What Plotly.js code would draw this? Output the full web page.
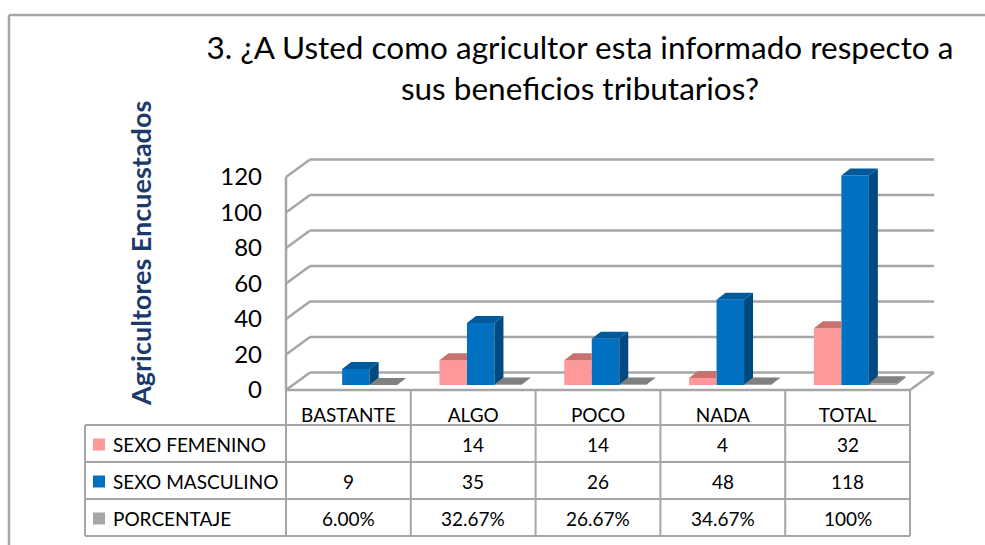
<!DOCTYPE html>
<html>
<head>
<meta charset="utf-8">
<script src="https://cdn.plot.ly/plotly-3.0.1.min.js"></script>
<style>html,body{margin:0;padding:0;background:#fff;}#chart{width:985px;height:545px;}</style>
</head>
<body>
<div id="chart"></div>
<script>
// ---- data ----
const categories = ['BASTANTE', 'ALGO', 'POCO', 'NADA', 'TOTAL'];
const femenino = [null, 14, 14, 4, 32];
const masculino = [9, 35, 26, 48, 118];
const porcentaje = [0.06, 0.3267, 0.2667, 0.3467, 1.00];
const porcentajeLabels = ['6.00%', '32.67%', '26.67%', '34.67%', '100%'];
const seriesNames = ['SEXO FEMENINO', 'SEXO MASCULINO', 'PORCENTAJE'];
const yTicks = [0, 20, 40, 60, 80, 100, 120];
const titleText = '3. ¿A Usted como agricultor esta informado respecto a<br>sus beneficios tributarios?';
const yTitle = 'Agricultores Encuestados';

// ---- styling / geometry ----
const W = 985, H = 545;
const L = 282, R = 940, T = 150, B = 395;         // plot box (px)
const X0 = 286, CAT = 124.8, Y0 = 390, UPX = 1.775; // front plane mapping
const xRange = [-0.5 - (X0 - L) / CAT, -0.5 + (R - X0) / CAT];
const yRange = [-(B - Y0) / UPX, (Y0 - T) / UPX];
const DXu = 24 / CAT, DYu = 17.5 / UPX;             // back-wall depth
const BASE = 5 / UPX, SHIFT = 7.5 / CAT, BW = 27.5 / CAT; // bar placement
const FDX = 9 / CAT, FDY = 7 / UPX;                 // bar face depth
const FONT = 'Lato, "Open Sans", sans-serif';
const colors = {
  pink: '#FF9999', pinkTop: '#C8716F',
  blue: '#0070C0', blueTop: '#005A9C', blueSide: '#004A80',
  gray: '#A6A6A6', grayTop: '#808080'
};
const lineCol = '#A6A6A6';
const px = x => (x - L) / (R - L);
const py = y => (B - y) / (B - T);
const idx = categories.map((_, i) => i);

const offsets = [SHIFT - 1.5 * BW, SHIFT - 0.5 * BW, SHIFT + 0.5 * BW];
const seriesVals = [femenino, masculino, porcentaje];
const frontCols = [colors.pink, colors.blue, colors.gray];

const traces = [];
seriesVals.forEach((vals, s) => {
  traces.push({
    type: 'bar', x: idx, y: vals, base: BASE, offset: offsets[s], width: BW,
    marker: {color: frontCols[s], line: {width: 0}},
    name: seriesNames[s], showlegend: false, hoverinfo: 'skip'
  });
});

function polys(vals, s, kind) {
  const xs = [], ys = [];
  vals.forEach((v, i) => {
    if (v === null || v === undefined) return;
    const xl = i + offsets[s], xr = xl + BW, b = BASE, t = BASE + v;
    let p;
    if (kind === 'topClip') p = [[xl, t], [xl + FDX, t + FDY], [xr, t + FDY], [xr, t]];
    else if (kind === 'top') p = [[xl, t], [xl + FDX, t + FDY], [xr + FDX, t + FDY], [xr, t]];
    else p = [[xr, b], [xr + FDX, b + FDY], [xr + FDX, t + FDY], [xr, t]];
    p.forEach(q => { xs.push(q[0]); ys.push(q[1]); });
    xs.push(xs[xs.length - p.length]); ys.push(ys[ys.length - p.length]);
    xs.push(null); ys.push(null);
  });
  return {xs, ys};
}
function face(vals, s, kind, col) {
  const p = polys(vals, s, kind);
  traces.push({
    type: 'scatter', mode: 'lines', x: p.xs, y: p.ys, fill: 'toself',
    fillcolor: col, line: {width: 0}, showlegend: false, hoverinfo: 'skip'
  });
}
face(femenino, 0, 'topClip', colors.pinkTop);
face(masculino, 1, 'side', colors.blueSide);
face(masculino, 1, 'top', colors.blueTop);
face(porcentaje, 2, 'side', colors.grayTop);
face(porcentaje, 2, 'top', colors.grayTop);

// ---- walls / gridlines ----
const shapes = [];
const ln = (x0, y0, x1, y1, xref, yref, w) => shapes.push({
  type: 'line', xref: xref, yref: yref, x0: x0, y0: y0, x1: x1, y1: y1,
  line: {color: lineCol, width: w || 2.5}, layer: 'below'
});
yTicks.forEach(v => {
  ln(-0.5 + DXu, v + DYu, 4.5 + DXu, v + DYu, 'x', 'y');
  ln(-0.5, v, -0.5 + DXu, v + DYu, 'x', 'y');
});
ln(-0.5, 0, -0.5, yTicks[yTicks.length - 1], 'x', 'y');
ln(-0.5, 0, 4.5, 0, 'x', 'y');
ln(4.5, 0, 4.5 + DXu, DYu, 'x', 'y');

// ---- data table ----
const rowLines = [390, 425, 462, 499, 536];
const colLeft = 85;
const colX = categories.map((_, i) => X0 + i * CAT).concat([X0 + categories.length * CAT]);
for (let r = 1; r < rowLines.length; r++) ln(px(colLeft), py(rowLines[r]), px(colX[colX.length - 1]), py(rowLines[r]), 'paper', 'paper', 2);
ln(px(colLeft), py(rowLines[1]), px(colLeft), py(rowLines[4]), 'paper', 'paper', 2);
colX.forEach(x => ln(px(x), py(rowLines[0]), px(x), py(rowLines[4]), 'paper', 'paper', 2));
// outer chart frame
ln(px(9), py(15), px(W), py(15), 'paper', 'paper', 2.5);
ln(px(9), py(15), px(9), py(H), 'paper', 'paper', 2.5);

const annotations = [];
const keyCols = [colors.pink, colors.blue, colors.gray];
const rowTexts = [
  femenino.map(v => v === null ? '' : String(v)),
  masculino.map(v => String(v)),
  porcentajeLabels
];
seriesNames.forEach((n, r) => {
  const yc = (rowLines[r + 1] + rowLines[r + 2]) / 2;
  shapes.push({type: 'rect', xref: 'paper', yref: 'paper',
    x0: px(93), x1: px(105), y0: py(yc + 7), y1: py(yc - 5),
    fillcolor: keyCols[r], line: {width: 0}});
  annotations.push({xref: 'paper', yref: 'paper', x: px(111), y: py(yc + 1),
    xanchor: 'left', yanchor: 'middle', text: n, showarrow: false,
    font: {family: FONT, size: 19, color: '#000'}});
  rowTexts[r].forEach((t, i) => {
    if (!t) return;
    annotations.push({xref: 'x', yref: 'paper', x: idx[i], y: py(yc + 1),
      xanchor: 'center', yanchor: 'middle', text: t, showarrow: false,
      font: {family: FONT, size: 19, color: '#000'}});
  });
});
annotations.push({xref: 'paper', yref: 'paper', x: px(140), y: py(254),
  xanchor: 'center', yanchor: 'middle', text: '<b>' + yTitle + '</b>', textangle: -90,
  showarrow: false, font: {family: FONT, size: 27, color: '#1B3A6B'}});

const layout = {
  width: W, height: H, autosize: false,
  margin: {l: L, r: W - R, t: T, b: H - B, pad: 0},
  paper_bgcolor: '#fff', plot_bgcolor: 'rgba(0,0,0,0)',
  showlegend: false, barmode: 'overlay',
  title: {text: titleText, font: {family: FONT, size: 31.5, color: '#000'},
    xref: 'container', yref: 'container', x: 580 / W, xanchor: 'center',
    y: 1 - 59 / H, yanchor: 'top'},
  xaxis: {range: xRange, tickvals: idx, ticktext: categories, showgrid: false,
    zeroline: false, showline: false, ticks: '', ticklabelstandoff: 7,
    tickfont: {family: FONT, size: 19, color: '#000'}, fixedrange: true},
  yaxis: {range: yRange, tickvals: yTicks, showgrid: false, zeroline: false,
    showline: false, ticks: '', ticklabelstandoff: 19,
    tickfont: {family: FONT, size: 24, color: '#000'}, fixedrange: true},
  shapes: shapes, annotations: annotations
};
Plotly.newPlot('chart', traces, layout, {staticPlot: true, displayModeBar: false});
</script>
</body>
</html>
